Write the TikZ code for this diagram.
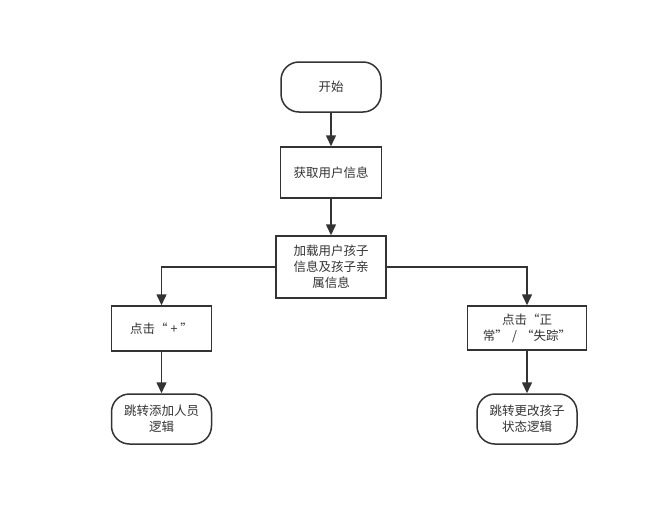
\documentclass[tikz,border=0pt]{standalone}
\usepackage{fontspec}
\usepackage{xcolor}
\usetikzlibrary{arrows.meta,positioning,calc}
\newfontfamily\cjk{Noto Sans CJK SC}
\definecolor{ink}{HTML}{333333}
\tikzset{
  box/.style={draw=ink,fill=white,line width=1.5pt,align=center,text=ink,inner sep=2pt,font=\cjk\fontsize{12.5}{16}\selectfont},
  stepbox/.style={box,minimum width=#1,minimum height=45pt},
  startbox/.style={box,rounded corners=18pt,minimum width=100pt,minimum height=50pt},
  arrow/.style={-{Triangle[length=11pt,width=10pt]},line width=1.5pt,color=ink},
}
\begin{document}
\begin{tikzpicture}[x=1pt,y=-1pt]
    \useasboundingbox (0,0) rectangle (648,506);
    \node[startbox] (start) at (331,87) {开始};
    \node[stepbox=101pt,minimum height=51pt] (fetch) at (331,172.5) {获取用户信息};
    \node[stepbox=110pt,minimum height=62pt,text width=100pt] (load) at (331,267) {加载用户孩子\\信息及孩子亲\\属信息};
    \node[stepbox=100pt] (plus) at (161.5,328.5) {点击“ + ”};
    \node[stepbox=119pt,minimum height=44pt,text width=112pt] (state) at (527,328) {点击“正\\常” / “失踪”};
    \node[startbox] (add) at (161.5,419) {跳转添加人员\\逻辑};
    \node[startbox] (edit) at (527,419) {跳转更改孩子\\状态逻辑};
    \draw[arrow] (start) -- (fetch);
    \draw[arrow] (fetch) -- (load);
    \draw[arrow] (load.west) -| (plus.north);
    \draw[arrow] (load.east) -| (state.north);
    \draw[arrow] (plus) -- (add);
    \draw[arrow] (state) -- (edit);
  \end{tikzpicture}
\end{document}
